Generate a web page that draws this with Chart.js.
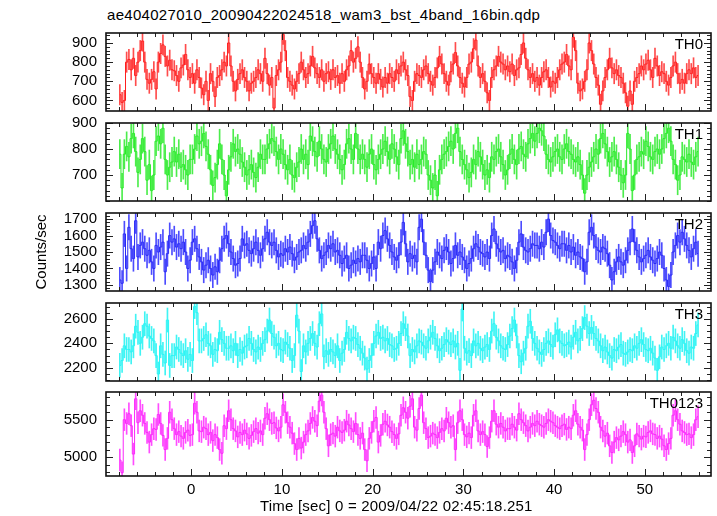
<!DOCTYPE html>
<html>
<head>
<meta charset="utf-8">
<script src="https://cdn.jsdelivr.net/npm/chart.js@4.4.0/dist/chart.umd.min.js"></script>
<style>
body { margin: 0; background: #fff; }
#wrap { position: relative; width: 717px; height: 516px; overflow: hidden; background: #fff; }
#wrap canvas { position: absolute; left: 0; }
.txt { position: absolute; font: 15px 'Liberation Sans', Arial, sans-serif; color: #000; white-space: nowrap; }
#title { left: 107px; top: 6px; letter-spacing: 0.3px; }
#xtitle { left: 260px; top: 497px; letter-spacing: 0.2px; }
</style>
</head>
<body>
<div id="wrap">
<div id="title" class="txt">ae404027010_20090422024518_wam3_bst_4band_16bin.qdp</div>
<canvas id="p0" width="717" height="114" style="top:15px"></canvas>
<canvas id="p1" width="717" height="114" style="top:105px"></canvas>
<canvas id="p2" width="717" height="114" style="top:195px"></canvas>
<canvas id="p3" width="717" height="114" style="top:285px"></canvas>
<canvas id="p4" width="717" height="142" style="top:374px"></canvas>
<div id="xtitle" class="txt">Time [sec] 0 = 2009/04/22 02:45:18.251</div>
</div>
<script>
// 0.25 s bins, first bin starts at -8 s
var binStart = -8;
var binWidth = 0.25;

var xMajorTicks = [0, 10, 20, 30, 40, 50];

var bandNames = ['TH0', 'TH1', 'TH2', 'TH3', 'TH0123'];
var bandErrors = [53, 56, 77, 98, 146];

var th0 = [
    630, 590, 600, 800, 814, 760, 820, 730, 800, 860, 910, 800, 710, 690, 710, 750,
    660, 800, 845, 890, 830, 780, 810, 760, 755, 730, 700, 770, 785, 840, 760, 720,
    740, 690, 760, 720, 665, 630, 700, 600, 740, 700, 620, 720, 730, 760, 800, 780,
    900, 780, 700, 650, 710, 740, 760, 720, 700, 650, 690, 700, 720, 760, 740, 700,
    820, 740, 680, 720, 560, 730, 760, 800, 945, 860, 720, 700, 680, 660, 700, 740,
    800, 760, 720, 740, 780, 830, 770, 740, 720, 760, 700, 740, 750, 710, 760, 720,
    730, 690, 740, 700, 760, 780, 860, 800, 820, 880, 800, 720, 660, 700, 790, 740,
    720, 690, 740, 710, 670, 720, 690, 740, 720, 700, 760, 740, 780, 800, 760, 730,
    620, 600, 700, 740, 730, 720, 760, 780, 740, 700, 680, 720, 770, 830, 790, 740,
    700, 680, 750, 790, 850, 780, 720, 690, 670, 720, 790, 800, 870, 915, 780, 720,
    740, 700, 640, 600, 720, 760, 780, 830, 800, 790, 760, 780, 750, 790, 730, 760,
    770, 840, 900, 820, 760, 720, 740, 700, 720, 680, 720, 750, 760, 720, 670, 700,
    690, 720, 760, 790, 800, 840, 780, 760, 930, 860, 690, 650, 660, 700, 760, 900,
    860, 790, 720, 680, 580, 650, 720, 760, 820, 770, 740, 760, 730, 720, 690, 640,
    570, 650, 580, 700, 720, 740, 780, 760, 790, 810, 760, 720, 820, 780, 730, 750,
    740, 700, 680, 720, 780, 800, 740, 690, 710, 690, 740, 760, 740, 770, 720, 730
];

var th1 = [
    780, 650, 780, 810, 770, 840, 860, 790, 710, 760, 840, 790, 680, 740, 640, 700,
    830, 850, 820, 880, 760, 700, 730, 750, 790, 750, 780, 730, 740, 720, 700, 760,
    760, 800, 850, 820, 830, 860, 810, 780, 720, 660, 690, 740, 820, 760, 700, 620,
    720, 770, 820, 790, 800, 780, 750, 730, 700, 720, 740, 710, 690, 730, 780, 760,
    760, 800, 820, 840, 830, 790, 760, 800, 780, 740, 720, 760, 700, 690, 730, 750,
    800, 760, 780, 740, 850, 830, 790, 770, 830, 800, 760, 750, 800, 820, 850, 800,
    780, 760, 720, 740, 820, 840, 800, 760, 860, 800, 760, 780, 760, 730, 780, 800,
    740, 720, 760, 780, 800, 830, 790, 760, 820, 800, 770, 740, 840, 870, 820, 790,
    740, 760, 730, 780, 740, 760, 790, 780, 700, 680, 650, 700, 620, 720, 760, 780,
    790, 810, 830, 800, 860, 880, 790, 760, 740, 720, 690, 710, 760, 740, 790, 770,
    740, 700, 720, 690, 770, 760, 790, 800, 770, 740, 700, 720, 780, 800, 760, 740,
    800, 810, 780, 770, 820, 840, 860, 830, 860, 880, 870, 850, 780, 760, 750, 770,
    790, 800, 770, 760, 800, 820, 790, 780, 760, 750, 770, 740, 700, 630, 700, 730,
    750, 770, 800, 780, 840, 860, 820, 790, 750, 770, 790, 760, 730, 700, 670, 700,
    860, 800, 640, 700, 760, 770, 790, 780, 830, 810, 770, 760, 790, 800, 780, 800,
    840, 860, 880, 830, 760, 740, 680, 700, 770, 760, 750, 780, 750, 740, 770, 790
];

var th2 = [
    1330, 1310, 1610, 1400, 1650, 1520, 1460, 1690, 1470, 1540, 1560, 1520, 1480, 1510, 1440, 1400,
    1540, 1500, 1530, 1560, 1380, 1490, 1600, 1560, 1580, 1530, 1550, 1520, 1560, 1500, 1400, 1450,
    1560, 1580, 1520, 1470, 1440, 1390, 1420, 1450, 1400, 1360, 1410, 1380, 1450, 1520, 1580, 1600,
    1550, 1500, 1460, 1420, 1430, 1460, 1580, 1540, 1550, 1510, 1490, 1520, 1560, 1510, 1480, 1520,
    1580, 1620, 1560, 1540, 1560, 1510, 1470, 1490, 1480, 1520, 1500, 1530, 1490, 1450, 1470, 1500,
    1510, 1540, 1520, 1560, 1610, 1660, 1690, 1580, 1510, 1460, 1480, 1500, 1540, 1520, 1550, 1500,
    1510, 1480, 1430, 1460, 1480, 1400, 1420, 1450, 1430, 1460, 1440, 1480, 1480, 1450, 1400, 1430,
    1470, 1400, 1560, 1520, 1600, 1630, 1580, 1540, 1500, 1470, 1450, 1480, 1560, 1680, 1550, 1440,
    1490, 1460, 1480, 1440, 1650, 1700, 1560, 1480, 1390, 1320, 1390, 1440, 1500, 1480, 1460, 1510,
    1530, 1500, 1430, 1460, 1540, 1480, 1500, 1470, 1450, 1400, 1430, 1460, 1520, 1550, 1530, 1500,
    1490, 1470, 1500, 1460, 1600, 1640, 1550, 1520, 1500, 1510, 1460, 1480, 1470, 1440, 1400, 1450,
    1560, 1610, 1530, 1510, 1500, 1520, 1550, 1540, 1540, 1520, 1560, 1530, 1620, 1700, 1600, 1570,
    1560, 1540, 1520, 1550, 1550, 1510, 1540, 1500, 1530, 1480, 1500, 1470, 1460, 1380, 1440, 1620,
    1650, 1600, 1530, 1510, 1500, 1530, 1520, 1490, 1420, 1330, 1380, 1440, 1470, 1440, 1420, 1450,
    1510, 1560, 1640, 1560, 1510, 1470, 1440, 1460, 1480, 1510, 1470, 1450, 1430, 1460, 1500, 1480,
    1400, 1330, 1290, 1360, 1500, 1540, 1600, 1560, 1620, 1580, 1540, 1510, 1470, 1520, 1560, 1490
];

var th3 = [
    2220, 2260, 2380, 2350, 2350, 2330, 2380, 2540, 2490, 2400, 2450, 2560, 2540, 2460, 2440, 2420,
    2300, 2150, 2380, 2310, 2240, 2590, 2220, 2300, 2300, 2370, 2350, 2320, 2300, 2340, 2270, 2310,
    2260, 2700, 2650, 2420, 2420, 2440, 2470, 2400, 2380, 2310, 2350, 2340, 2490, 2430, 2400, 2360,
    2360, 2380, 2340, 2400, 2300, 2350, 2320, 2370, 2380, 2440, 2400, 2350, 2330, 2370, 2350, 2400,
    2430, 2500, 2590, 2480, 2450, 2380, 2400, 2350, 2340, 2410, 2390, 2360, 2260, 2300, 2630, 2500,
    2170, 2380, 2330, 2400, 2440, 2480, 2400, 2370, 2560, 2640, 2290, 2340, 2310, 2350, 2330, 2300,
    2380, 2260, 2320, 2350, 2490, 2440, 2420, 2450, 2440, 2390, 2360, 2320, 2280, 2190, 2260, 2300,
    2400, 2460, 2490, 2440, 2450, 2420, 2440, 2390, 2380, 2350, 2360, 2400, 2480, 2560, 2520, 2460,
    2300, 2350, 2330, 2380, 2420, 2410, 2380, 2360, 2420, 2450, 2490, 2440, 2380, 2340, 2360, 2390,
    2430, 2410, 2390, 2420, 2370, 2400, 2180, 2680, 2360, 2320, 2340, 2300, 2420, 2380, 2400, 2360,
    2340, 2370, 2390, 2350, 2500, 2560, 2450, 2420, 2380, 2360, 2350, 2390, 2460, 2520, 2590, 2460,
    2300, 2250, 2320, 2360, 2540, 2580, 2440, 2400, 2360, 2330, 2310, 2350, 2400, 2420, 2390, 2370,
    2470, 2510, 2420, 2400, 2380, 2390, 2410, 2370, 2450, 2490, 2420, 2440, 2520, 2610, 2540, 2480,
    2530, 2480, 2440, 2420, 2380, 2340, 2370, 2330, 2300, 2280, 2350, 2340, 2370, 2390, 2320, 2310,
    2330, 2350, 2340, 2380, 2360, 2400, 2430, 2390, 2350, 2340, 2360, 2320, 2280, 2180, 2290, 2370,
    2350, 2380, 2400, 2360, 2450, 2420, 2380, 2360, 2430, 2400, 2340, 2320, 2370, 2360, 2480, 2550
];

var th0123 = [
    4960, 4790, 5500, 5450, 5580, 5420, 5040, 5780, 5460, 5620, 5560, 5450, 5330, 5200, 5300, 5380,
    5370, 5570, 5450, 5290, 5100, 5250, 5600, 5500, 5380, 5300, 5340, 5280, 5250, 5330, 5360, 5290,
    5300, 5720, 5600, 5350, 5340, 5400, 5380, 5300, 5330, 5220, 5300, 5260, 5100, 5050, 5420, 5380,
    5620, 5500, 5380, 5350, 5270, 5330, 5300, 5360, 5310, 5250, 5290, 5340, 5380, 5320, 5350, 5300,
    5520, 5580, 5500, 5450, 5460, 5390, 5350, 5400, 5700, 5600, 5460, 5400, 5320, 5180, 5100, 5250,
    5120, 5200, 5300, 5350, 5450, 5530, 5480, 5420, 5750, 5830, 5600, 5380, 5150, 5300, 5320, 5280,
    5400, 5350, 5330, 5360, 5480, 5430, 5380, 5340, 5450, 5300, 5250, 5320, 5100, 4950, 5250, 5330,
    5480, 5530, 5200, 5290, 5440, 5480, 5430, 5400, 5340, 5300, 5250, 5310, 5560, 5660, 5600, 5520,
    5680, 5780, 5400, 5360, 5650, 5830, 5460, 5380, 5260, 5280, 5320, 5300, 5260, 5330, 5380, 5350,
    5520, 5460, 5400, 5420, 5100, 5460, 5620, 5500, 5300, 5270, 5320, 5260, 5560, 5620, 5350, 5300,
    5340, 5300, 5140, 5260, 5480, 5620, 5440, 5400, 5450, 5400, 5350, 5380, 5380, 5440, 5400, 5360,
    5580, 5500, 5460, 5420, 5350, 5400, 5450, 5420, 5480, 5440, 5420, 5400, 5450, 5500, 5480, 5460,
    5420, 5400, 5380, 5420, 5440, 5370, 5400, 5380, 5560, 5620, 5440, 5400, 5360, 5100, 5300, 5500,
    5700, 5760, 5650, 5600, 5400, 5350, 5280, 5320, 5150, 5060, 5200, 5260, 5230, 5280, 5340, 5300,
    5200, 5230, 5060, 5150, 5310, 5280, 5240, 5280, 5270, 5330, 5350, 5310, 5300, 5250, 5280, 5240,
    5150, 5100, 5180, 5250, 5560, 5620, 5500, 5440, 5350, 5330, 5300, 5310, 5260, 5300, 5500, 5540
];

var bandValues = [th0, th1, th2, th3, th0123];

// axis ranges and tick labels per panel
var yRanges = [[545, 952], [600, 900], [1263, 1737], [2093, 2729], [4746, 5871]];
var yMajorTicks = [
    [600, 700, 800, 900],
    [700, 800, 900],
    [1300, 1400, 1500, 1600, 1700],
    [2200, 2400, 2600],
    [5000, 5500]
];
var yMinorSteps = [20, 20, 20, 50, 100];

var lineColors = ['rgb(255,30,30)', 'rgb(40,235,40)', 'rgb(40,40,245)', 'rgb(40,245,245)', 'rgb(250,40,250)'];
var barColors = ['rgba(255,0,0,0.7)', 'rgba(0,230,0,0.7)', 'rgba(0,0,255,0.7)', 'rgba(0,240,240,0.75)', 'rgba(255,0,255,0.7)'];

var font = "'Liberation Sans', Arial, sans-serif";
var xMin = -9.4, xMax = 57.3;

var frameTicks = {
    id: 'frameTicks',
    afterDraw: function (chart, args, opts) {
        var ctx = chart.ctx;
        var a = chart.chartArea;
        var xs = chart.scales.x;
        var ys = chart.scales.y;
        ctx.save();
        ctx.strokeStyle = '#222';
        ctx.lineWidth = 1;
        ctx.beginPath();
        var v, px, len;
        for (v = -8; v <= 56; v += 2) {
            px = Math.round(xs.getPixelForValue(v)) + 0.5;
            len = (v % 10 === 0) ? 7 : 4;
            ctx.moveTo(px, a.top); ctx.lineTo(px, a.top + len);
            ctx.moveTo(px, a.bottom); ctx.lineTo(px, a.bottom - len);
        }
        var step = opts.minor;
        for (v = Math.ceil(ys.min / step) * step; v <= ys.max; v += step) {
            px = Math.round(ys.getPixelForValue(v)) + 0.5;
            len = (opts.major.indexOf(v) >= 0) ? 7 : 4;
            ctx.moveTo(a.left, px); ctx.lineTo(a.left + len, px);
            ctx.moveTo(a.right, px); ctx.lineTo(a.right - len, px);
        }
        ctx.stroke();
        ctx.lineWidth = 1.6;
        ctx.strokeStyle = '#111';
        ctx.strokeRect(a.left, a.top, a.right - a.left, a.bottom - a.top);
        ctx.fillStyle = '#000';
        ctx.font = '15px ' + font;
        ctx.textAlign = 'right';
        ctx.textBaseline = 'middle';
        ctx.fillText(opts.label, a.right - 8, a.top + 12);
        ctx.restore();
    }
};

function plainLabel(value) {
    return String(value);
}

function makePanel(i) {
    var last = (i === bandValues.length - 1);
    var vals = bandValues[i];
    var err = bandErrors[i];
    var lineData = [], barData = [];
    for (var k = 0; k < vals.length; k++) {
        var t = binStart + binWidth * k + binWidth / 2;
        lineData.push({ x: t, y: vals[k] });
        barData.push({ x: t, y: [vals[k] - err, vals[k] + err] });
    }
    var ctx = document.getElementById('p' + i).getContext('2d');
    return new Chart(ctx, {
        type: 'bar',
        data: {
            datasets: [{
                type: 'line',
                data: lineData,
                stepped: 'middle',
                borderColor: lineColors[i],
                borderWidth: 1,
                pointRadius: 0,
                clip: 0,
                order: 1
            }, {
                type: 'bar',
                data: barData,
                backgroundColor: barColors[i],
                barThickness: 1,
                clip: 0,
                order: 2
            }]
        },
        options: {
            responsive: false,
            animation: false,
            layout: { padding: { top: 12, bottom: last ? 0 : 12, left: 0, right: 6 } },
            plugins: {
                legend: { display: false },
                tooltip: { enabled: false },
                frameTicks: { label: bandNames[i], major: yMajorTicks[i], minor: yMinorSteps[i] }
            },
            scales: {
                x: {
                    type: 'linear',
                    min: xMin,
                    max: xMax,
                    offset: false,
                    display: last,
                    grid: { display: false, drawTicks: false, offset: false },
                    border: { display: false },
                    afterBuildTicks: function (scale) {
                        scale.ticks = xMajorTicks.map(function (v) { return { value: v }; });
                    },
                    afterFit: function (scale) { if (last) { scale.height = 40; } },
                    ticks: { color: '#000', font: { family: font, size: 15 }, padding: 5, maxRotation: 0, autoSkip: false, callback: plainLabel }
                },
                y: {
                    type: 'linear',
                    min: yRanges[i][0],
                    max: yRanges[i][1],
                    grid: { display: false, drawTicks: false },
                    border: { display: false },
                    afterBuildTicks: function (scale) {
                        scale.ticks = yMajorTicks[i].map(function (v) { return { value: v }; });
                    },
                    afterFit: function (scale) { scale.width = 106; },
                    ticks: { color: '#000', font: { family: font, size: 15 }, padding: 9, autoSkip: false, callback: plainLabel },
                    title: {
                        display: i === 2,
                        text: 'Counts/sec',
                        color: '#000',
                        font: { family: font, size: 15 },
                        padding: { top: 33, bottom: 0 }
                    }
                }
            }
        },
        plugins: [frameTicks]
    });
}

var panels = [];
for (var p = 0; p < bandValues.length; p++) {
    panels.push(makePanel(p));
}
</script>
</body>
</html>
